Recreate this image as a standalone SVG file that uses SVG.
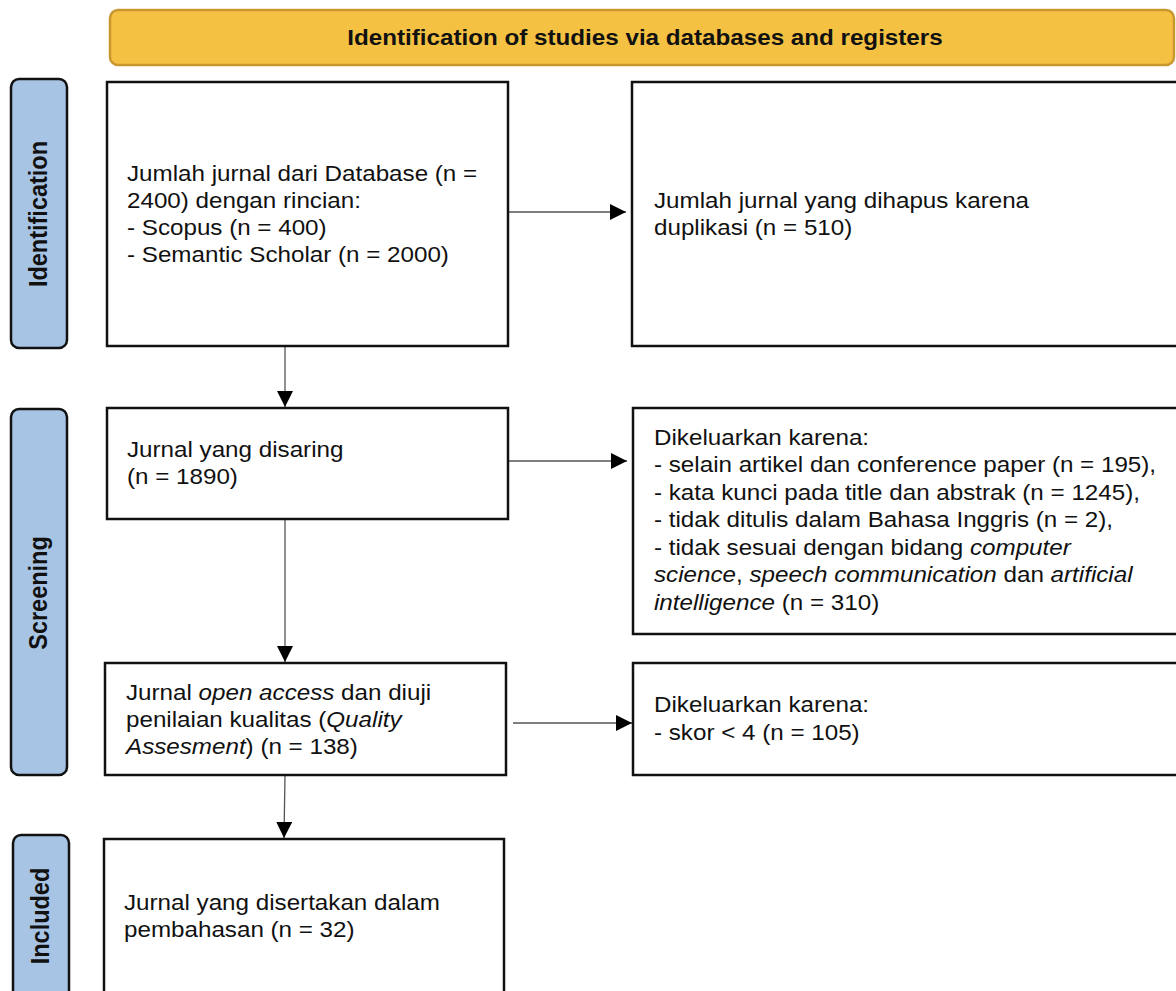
<svg xmlns="http://www.w3.org/2000/svg" width="1176" height="991" viewBox="0 0 1176 991">
<style>
.box{fill:#fff;stroke:#111;stroke-width:2.5}
.side{fill:#a7c4e4;stroke:#111;stroke-width:2.5}
.hdr{fill:#f4c142;stroke:#c9972f;stroke-width:2.5}
.t{font-family:"Liberation Sans",Arial,sans-serif;font-size:22px;fill:#111}
.b{font-family:"Liberation Sans",Arial,sans-serif;font-size:22px;font-weight:bold;fill:#111}
.sb{font-family:"Liberation Sans",Arial,sans-serif;font-size:23.5px;font-weight:bold;fill:#111}
.i{font-style:italic}
.conn{stroke:#555;stroke-width:1.3;fill:none;marker-end:url(#ah)}
</style>
<defs>
<marker id="ah" markerUnits="userSpaceOnUse" markerWidth="16" markerHeight="16" viewBox="0 0 16 16" refX="16" refY="8" orient="auto">
<path d="M0,0 L16,8 L0,16 z" fill="#000"/>
</marker>
</defs>
<rect width="1176" height="991" fill="#fff"/>
<g id="header">
<rect class="hdr" x="110" y="10" width="1064" height="55" rx="8"/>
<text class="b" transform="translate(645,45) scale(1.1,1)" text-anchor="middle">Identification of studies via databases and registers</text>
</g>
<g id="side-identification">
<rect class="side" x="11" y="79" width="56" height="269" rx="8"/>
<text class="sb" transform="translate(47,214) scale(1.1,1) rotate(-90)" text-anchor="middle">Identification</text>
</g>
<g id="side-screening">
<rect class="side" x="11" y="409" width="56" height="366" rx="8"/>
<text class="sb" transform="translate(47,593) scale(1.1,1) rotate(-90)" text-anchor="middle">Screening</text>
</g>
<g id="side-included">
<rect class="side" x="13" y="835" width="56" height="180" rx="8"/>
<text class="sb" transform="translate(49,916) scale(1.1,1) rotate(-90)" text-anchor="middle">Included</text>
</g>
<g id="connectors">
<line class="conn" x1="508" y1="212" x2="626" y2="212"/>
<line class="conn" x1="285" y1="346" x2="285" y2="407"/>
<line class="conn" x1="508" y1="461" x2="627" y2="461"/>
<line class="conn" x1="285" y1="519" x2="285" y2="662"/>
<line class="conn" x1="513" y1="723" x2="632" y2="723"/>
<line class="conn" x1="285" y1="775" x2="284" y2="838"/>
</g>
<g id="n-database">
<rect class="box" x="107" y="82" width="401" height="264"/>
<text class="t" transform="translate(127,181) scale(1.1,1)">Jumlah jurnal dari Database (n =</text>
<text class="t" transform="translate(127,208) scale(1.1,1)">2400) dengan rincian:</text>
<text class="t" transform="translate(127,235) scale(1.1,1)">- Scopus (n = 400)</text>
<text class="t" transform="translate(127,262) scale(1.1,1)">- Semantic Scholar (n = 2000)</text>
</g>
<g id="n-duplikasi">
<rect class="box" x="632" y="82" width="570" height="264"/>
<text class="t" transform="translate(654,208) scale(1.1,1)">Jumlah jurnal yang dihapus karena</text>
<text class="t" transform="translate(654,235) scale(1.1,1)">duplikasi (n = 510)</text>
</g>
<g id="n-disaring">
<rect class="box" x="107" y="408" width="401" height="111"/>
<text class="t" transform="translate(127,457) scale(1.1,1)">Jurnal yang disaring</text>
<text class="t" transform="translate(127,484) scale(1.1,1)">(n = 1890)</text>
</g>
<g id="n-dikeluarkan1">
<rect class="box" x="633" y="408" width="570" height="226"/>
<text class="t" transform="translate(654,445) scale(1.1,1)">Dikeluarkan karena:</text>
<text class="t" transform="translate(654,472) scale(1.1,1)">- selain artikel dan conference paper (n = 195),</text>
<text class="t" transform="translate(654,500) scale(1.1,1)">- kata kunci pada title dan abstrak (n = 1245),</text>
<text class="t" transform="translate(654,527) scale(1.1,1)">- tidak ditulis dalam Bahasa Inggris (n = 2),</text>
<text class="t" transform="translate(654,555) scale(1.1,1)">- tidak sesuai dengan bidang <tspan class="i">computer</tspan></text>
<text class="t" transform="translate(654,582) scale(1.1,1)"><tspan class="i">science</tspan>, <tspan class="i">speech communication</tspan> dan <tspan class="i">artificial</tspan></text>
<text class="t" transform="translate(654,610) scale(1.1,1)"><tspan class="i">intelligence</tspan> (n = 310)</text>
</g>
<g id="n-openaccess">
<rect class="box" x="105" y="663" width="401" height="112"/>
<text class="t" transform="translate(126,700) scale(1.1,1)">Jurnal <tspan class="i">open access</tspan> dan diuji</text>
<text class="t" transform="translate(126,727) scale(1.1,1)">penilaian kualitas (<tspan class="i">Quality</tspan></text>
<text class="t" transform="translate(126,754) scale(1.1,1)"><tspan class="i">Assesment</tspan>) (n = 138)</text>
</g>
<g id="n-dikeluarkan2">
<rect class="box" x="633" y="663" width="570" height="112"/>
<text class="t" transform="translate(654,712) scale(1.1,1)">Dikeluarkan karena:</text>
<text class="t" transform="translate(654,740) scale(1.1,1)">- skor &lt; 4 (n = 105)</text>
</g>
<g id="n-included">
<rect class="box" x="104" y="839" width="400" height="180"/>
<text class="t" transform="translate(124,910) scale(1.1,1)">Jurnal yang disertakan dalam</text>
<text class="t" transform="translate(124,937) scale(1.1,1)">pembahasan (n = 32)</text>
</g>
</svg>
